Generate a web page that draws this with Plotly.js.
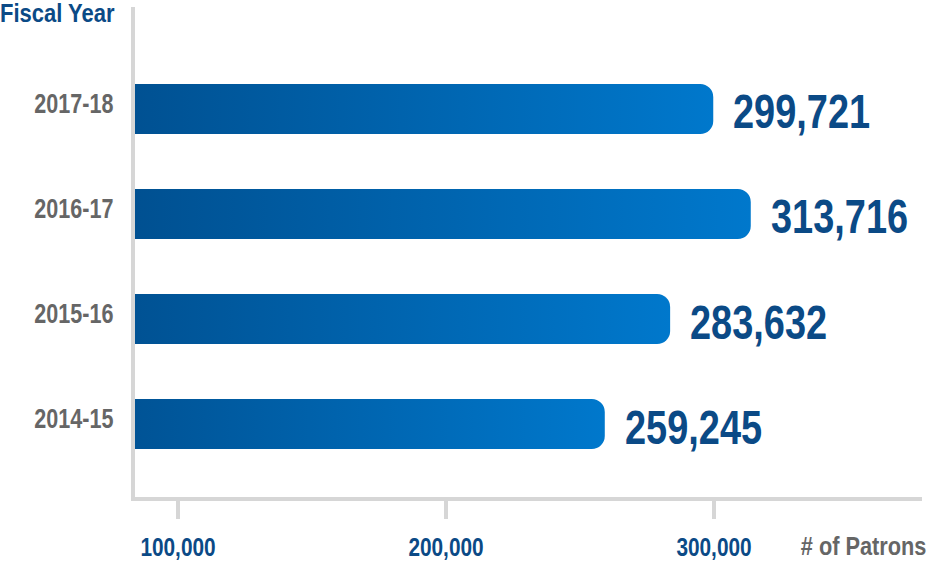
<!DOCTYPE html>
<html>
<head>
<meta charset="utf-8">
<script src="https://cdn.plot.ly/plotly-3.0.1.min.js"></script>
<style>
html,body{margin:0;padding:0;background:#fff;}
#chart{width:927px;height:562px;}
</style>
</head>
<body>
<div id="chart"></div>
<script>
// ---- data ----
const fiscalYears = ['2014-15', '2015-16', '2016-17', '2017-18'];
const patrons = [259245, 283632, 313716, 299721];
const xTickValues = [100000, 200000, 300000];
const xTickLabels = ['100,000', '200,000', '300,000'];
const yTitle = 'Fiscal Year';
const xTitle = '# of Patrons';

const FONT = '"Liberation Sans", Arial, sans-serif';
const BLUE = '#0b4a86';
const GREY = '#666666';
const LINE = '#d6d6d6';

const trace = {
  type: 'bar',
  orientation: 'h',
  y: fiscalYears,
  x: patrons,
  marker: { color: '#005aa3', cornerradius: 13, line: { width: 0 } },
  hoverinfo: 'skip'
};

const annotations = fiscalYears.map((fy, i) => ({
  x: patrons[i], y: fy, xref: 'x', yref: 'y',
  text: patrons[i].toLocaleString('en-US'),
  showarrow: false, xanchor: 'left', yanchor: 'middle', xshift: 18, yshift: -3,
  font: { family: FONT, size: 48, color: BLUE, weight: 700 }
}));
annotations.push({
  xref: 'paper', yref: 'paper', x: 0, y: 1, xanchor: 'left', yanchor: 'top',
  xshift: -137, yshift: 10, showarrow: false, text: yTitle,
  font: { family: FONT, size: 25, color: BLUE, weight: 700 }
});
annotations.push({
  xref: 'paper', yref: 'paper', x: 1, y: 0, xanchor: 'right', yanchor: 'middle',
  xshift: 6, yshift: -49, showarrow: false, text: xTitle,
  font: { family: FONT, size: 25, color: GREY, weight: 700 }
});

const layout = {
  width: 927, height: 562,
  margin: { l: 135, r: 5, t: 7, b: 65 },
  paper_bgcolor: '#fff', plot_bgcolor: '#fff',
  showlegend: false,
  bargap: 0.524,
  hovermode: false,
  xaxis: {
    range: [83955, 377612],
    tickvals: xTickValues, ticktext: xTickLabels,
    showgrid: false, zeroline: false,
    showline: true, linewidth: 4, linecolor: LINE,
    ticks: 'outside', ticklen: 18, tickwidth: 4, tickcolor: LINE,
    ticklabelstandoff: 6,
    tickfont: { family: FONT, size: 26, color: BLUE, weight: 700 },
    fixedrange: true
  },
  yaxis: {
    type: 'category', categoryorder: 'array', categoryarray: fiscalYears,
    range: [-0.695, 3.971],
    showgrid: false, zeroline: false,
    showline: true, linewidth: 4, linecolor: LINE,
    ticks: '', ticklabelstandoff: 12,
    tickfont: { family: FONT, size: 28, color: GREY, weight: 700 },
    fixedrange: true
  },
  annotations: annotations
};

// condense a text element horizontally around an anchor ('left'|'center'|'right')
function condense(el, s, anchor, dy) {
  const b = el.getBBox();
  const ox = anchor === 'left' ? b.x : anchor === 'right' ? b.x + b.width : b.x + b.width / 2;
  const prev = el.getAttribute('transform') || '';
  el.setAttribute('transform', prev + ' translate(0,' + (dy || 0) + ') translate(' + ox + ',0) scale(' + s + ',1) translate(' + (-ox) + ',0)');
}

Plotly.newPlot('chart', [trace], layout, { displayModeBar: false, staticPlot: true }).then(gd => {
  const NS = 'http://www.w3.org/2000/svg';
  const svg = gd.querySelector('svg.main-svg');
  let defs = svg.querySelector('defs');
  if (!defs) { defs = document.createElementNS(NS, 'defs'); svg.insertBefore(defs, svg.firstChild); }
  const grad = document.createElementNS(NS, 'linearGradient');
  grad.setAttribute('id', 'barGrad');
  grad.setAttribute('x1', '0'); grad.setAttribute('y1', '0');
  grad.setAttribute('x2', '1'); grad.setAttribute('y2', '0');
  [['0', '#003a74'], ['0.15', '#004a88'], ['1', '#0078cc']].forEach(([o, c]) => {
    const s = document.createElementNS(NS, 'stop');
    s.setAttribute('offset', o); s.setAttribute('stop-color', c);
    grad.appendChild(s);
  });
  defs.appendChild(grad);
  gd.querySelectorAll('.bars .point path').forEach(p => { p.style.fill = 'url(#barGrad)'; });

  gd.querySelectorAll('.xtick text').forEach(t => condense(t, 0.8, 'center', 0));
  gd.querySelectorAll('.ytick text').forEach(t => condense(t, 0.77, 'right', -6));
  const ann = gd.querySelectorAll('.annotation-text');
  ann.forEach((t, i) => {
    if (i < fiscalYears.length) condense(t, 0.79, 'left', 0);
    else if (i === fiscalYears.length) condense(t, 0.88, 'left', 0);
    else condense(t, 0.87, 'right', 0);
  });
});
</script>
</body>
</html>
